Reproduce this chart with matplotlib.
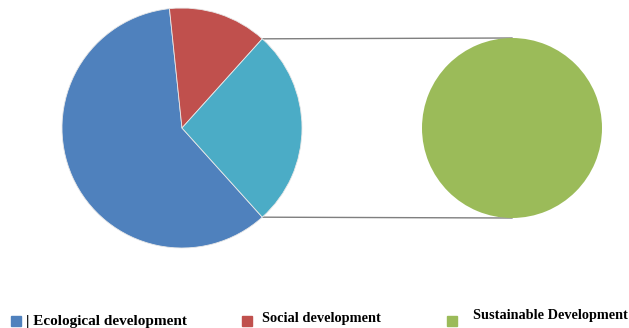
import numpy as np
import matplotlib
matplotlib.use("Agg")
import matplotlib.pyplot as plt

# data
labels = ["Ecological development", "Social development", "Sustainable Development"]
main_values = [9, 2, 4]          # last slice is broken out into the second pie
sub_values = [4]
colors = ["#4F81BD", "#C0504D", "#4BACC6"]
sub_colors = ["#9BBB59"]

W, H = 629, 328
fig = plt.figure(figsize=(W / 100, H / 100), dpi=100)
ax = fig.add_axes([0, 0, 1, 1])

# positions given in pixels from the top, converted to y-up coordinates
c1, r1 = (182, H - 128), 120
c2, r2 = (512, H - 128), 90

wedges, _ = ax.pie(main_values, colors=colors, center=c1, radius=r1,
                   startangle=-48, counterclock=False, frame=True,
                   wedgeprops=dict(linewidth=0.6, edgecolor="#e8e8e8"))
ax.pie(sub_values, colors=sub_colors, center=c2, radius=r2, frame=True,
       wedgeprops=dict(linewidth=0))
ax.set_xlim(0, W)
ax.set_ylim(0, H)
ax.set_aspect("equal")
ax.axis("off")

# connector lines from the broken-out slice to the second pie
w = wedges[-1]
for th, yy in [(w.theta2, c2[1] + r2), (w.theta1, c2[1] - r2)]:
    x0 = c1[0] + r1 * np.cos(np.radians(th))
    y0 = c1[1] + r1 * np.sin(np.radians(th))
    ax.plot([x0, c2[0]], [y0, yy], color="#7f7f7f", lw=1.0, zorder=0)

# legend
leg_items = [(11, 326, "| " + labels[0], 26, 325, colors[0], 11),
             (242, 326, labels[1], 262, 322, colors[1], 10.4),
             (447, 326, labels[2], 473, 319, sub_colors[0], 10.3)]
for sx, sy, txt, tx, ty, col, fs in leg_items:
    ax.add_patch(plt.Rectangle((sx, H - sy), 10, 10, color=col, clip_on=False))
    ax.text(tx, H - ty, txt, va="baseline", ha="left", family="Liberation Serif",
            fontweight="bold", fontsize=fs)

fig.savefig("out.png", dpi=100)
